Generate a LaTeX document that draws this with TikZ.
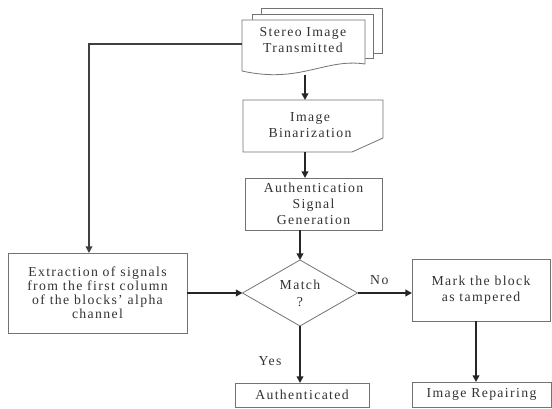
\documentclass[tikz,border=0pt]{standalone}
\usepackage{fontspec}
\setmainfont{Liberation Serif}[LetterSpace=10]
\usetikzlibrary{shapes.geometric,arrows.meta}
\begin{document}
\begin{tikzpicture}[x=0.75pt,y=-0.75pt,
  box/.style={draw=black!55,line width=0.6pt,fill=white,inner sep=0pt,outer sep=0pt},
  lbl/.style={align=center,font=\fontsize{10.3}{10.5}\selectfont,text=black!80},
  conn/.style={draw=black!85,line width=1.3pt,-{Triangle[length=5pt,width=5pt]}},
  plain/.style={draw=black!75,line width=1.1pt}]
\useasboundingbox (0,0) rectangle (552,409);
% stacked documents
\draw[box] (261,14) -- (261,8) -- (382,8) -- (382,53) -- (373,53);
\draw[box] (252,20) -- (252,14) -- (373,14) -- (373,58) -- (365,58);
\draw[box] (242,20) -- (365,20) -- (365,64) .. controls (325,58) and (300,84) .. (242,71) -- cycle;
\node[lbl,font=\fontsize{10.3}{12}\selectfont] (stereo) at (303,40) {Stereo Image\\Transmitted};
\coordinate (stbot) at (305,75);
\coordinate (stleft) at (242,44);
% binarization
\draw[box] (243,100) -- (383,100) -- (383,138) -- (352,152) -- (243,152) -- cycle;
\node[lbl,font=\fontsize{10.3}{12}\selectfont] (bin) at (310,125) {Image\\Binarization};
\coordinate (binbot) at (305,152);
% authentication signal generation
\node[box,lbl,minimum width=102.75pt,minimum height=39pt,font=\fontsize{10.3}{12}\selectfont] (auth) at (313.5,204) {Authentication\\Signal\\Generation};
% extraction
\node[box,lbl,minimum width=134.25pt,minimum height=60pt] (extr) at (97.5,293) {Extraction of signals\\from the first column\\of the blocks' alpha\\channel};
% match diamond
\node[box,lbl,shape=diamond,aspect=1.75,minimum width=86.25pt,minimum height=49.5pt,font=\fontsize{10.3}{12.5}\selectfont] (match) at (300,293) {Match\\?};
% mark
\node[box,lbl,minimum width=103.5pt,minimum height=46.5pt,font=\fontsize{10.3}{12}\selectfont] (mark) at (481,290) {Mark the block\\as tampered};
% authenticated
\node[box,lbl,minimum width=100.5pt,minimum height=18pt] (authd) at (302,395) {Authenticated};
% repairing
\node[box,lbl,minimum width=104.25pt,minimum height=18.75pt] (repair) at (481.5,394.5) {Image Repairing};
% connectors
\coordinate (extrin) at (89,253);
\draw[conn] (stbot) -- (stbot |- 0,100);
\draw[conn] (binbot) -- (binbot |- auth.north);
\draw[conn] (match.north |- auth.south) -- (match.north);
\draw[plain,-{Triangle[length=5pt,width=5pt]}] (stleft) -| (extrin);
\draw[conn] (extr.east) -- (match.west);
\draw[conn] (match.east) -- (match.east -| mark.west) node[lbl,pos=0.4,above=2pt] {No};
\draw[conn] (match.south) -- (match.south |- authd.north) node[lbl,pos=0.62,left=10pt] {Yes};
\draw[conn] (mark.south -| 476,0) -- (476,0 |- repair.north);
\end{tikzpicture}
\end{document}
